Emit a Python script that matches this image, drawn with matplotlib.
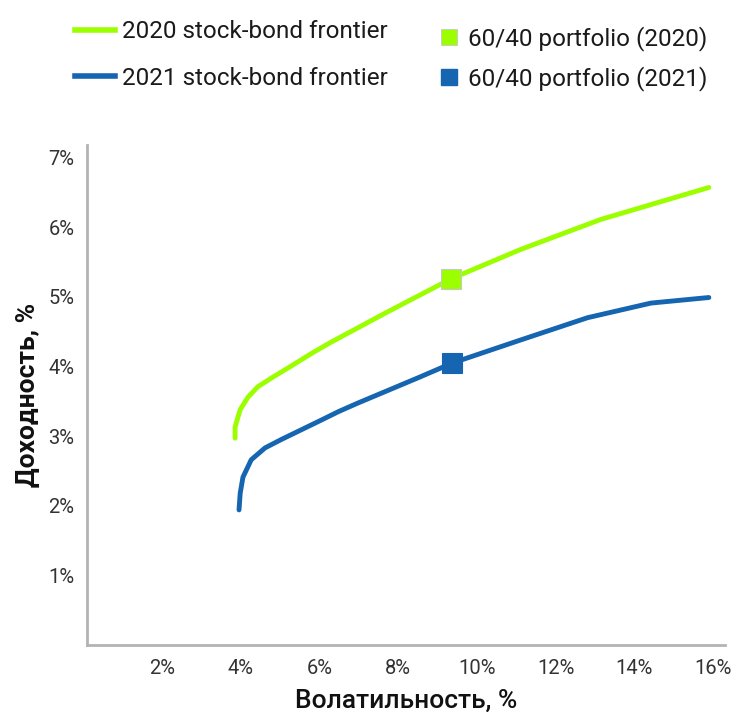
import numpy as np
import matplotlib.pyplot as plt
from matplotlib.lines import Line2D

plt.rcParams['font.family'] = ['Roboto', 'DejaVu Sans']

# frontier 2020 (volatility %, return %)
vol_2020 = [3.86, 3.86, 3.99, 4.19, 4.44, 4.80, 5.21, 5.84, 6.27, 7.72, 9.35, 11.11, 13.14, 15.89]
ret_2020 = [2.97, 3.13, 3.38, 3.56, 3.71, 3.84, 3.98, 4.20, 4.34, 4.78, 5.26, 5.68, 6.11, 6.57]
# frontier 2021
vol_2021 = [3.96, 3.99, 4.06, 4.27, 4.62, 5.03, 5.54, 6.05, 6.48, 6.96, 8.56, 9.38, 11.11, 12.81, 14.42, 15.89]
ret_2021 = [1.94, 2.18, 2.41, 2.66, 2.83, 2.95, 3.09, 3.23, 3.35, 3.47, 3.85, 4.05, 4.38, 4.70, 4.91, 4.99]
# 60/40 portfolios
p6040_vol = [9.35, 9.38]
p6040_ret = [5.26, 4.05]

xticks = [2, 4, 6, 8, 10, 12, 14, 16]
yticks = [1, 2, 3, 4, 5, 6, 7]

green = '#9BFF00'
blue = '#1565B0'

fig = plt.figure(figsize=(7.53, 7.15), dpi=100)
ax = fig.add_axes([87/753, 1 - 645/715, (725 - 87)/753, (645 - 145)/715])

ax.plot(vol_2020, ret_2020, color=green, lw=3.5, solid_capstyle='round', solid_joinstyle='round', zorder=2)
ax.plot(vol_2021, ret_2021, color=blue, lw=3.5, solid_capstyle='round', solid_joinstyle='round', zorder=2)
ax.plot(p6040_vol[0], p6040_ret[0], 's', color=green, ms=15, mec='#C8C8C8', mew=0.8, zorder=3)
ax.plot(p6040_vol[1], p6040_ret[1], 's', color=blue, ms=15, mec=blue, mew=0.8, zorder=3)

ax.set_xlim(0.1, 16.3)
ax.set_ylim(0, 7.18)
ax.set_xticks(xticks)
ax.set_xticklabels([f'{t}%' for t in xticks])
ax.set_yticks(yticks)
ax.set_yticklabels([f'{t}%' for t in yticks])
ax.tick_params(length=0, labelsize=14.5, colors='#333333', pad=10)
ax.tick_params(axis='y', pad=9)
for s in ['top', 'right']:
    ax.spines[s].set_visible(False)
for s in ['left', 'bottom']:
    ax.spines[s].set_color('#B3B3B3')
    ax.spines[s].set_linewidth(2)

ax.set_xlabel('Волатильность, %', fontsize=19, fontweight='medium', color='#111111', labelpad=8)
ax.set_ylabel('Доходность, %', fontsize=19, fontweight='bold', color='#111111', labelpad=6)

h1 = [Line2D([], [], color=green, lw=4), Line2D([], [], color=blue, lw=4)]
leg1 = fig.legend(h1, ['2020 stock-bond frontier', '2021 stock-bond frontier'],
                  loc='upper left', bbox_to_anchor=(0.070, 1.002), frameon=False,
                  fontsize=17.5, handlelength=1.65, labelspacing=0.95, handletextpad=0.3)
h2 = [Line2D([], [], marker='s', ls='', color=green, ms=12, mec='#C8C8C8', mew=0.6),
      Line2D([], [], marker='s', ls='', color=blue, ms=12)]
leg2 = fig.legend(h2, ['60/40 portfolio (2020)', '60/40 portfolio (2021)'],
                  loc='upper left', bbox_to_anchor=(0.554, 0.994), frameon=False,
                  fontsize=17.5, labelspacing=0.6, handlelength=0.8, handletextpad=0.4)
for t in leg1.get_texts() + leg2.get_texts():
    t.set_color('#1a1a1a')

fig.savefig('out.png', dpi=100)
